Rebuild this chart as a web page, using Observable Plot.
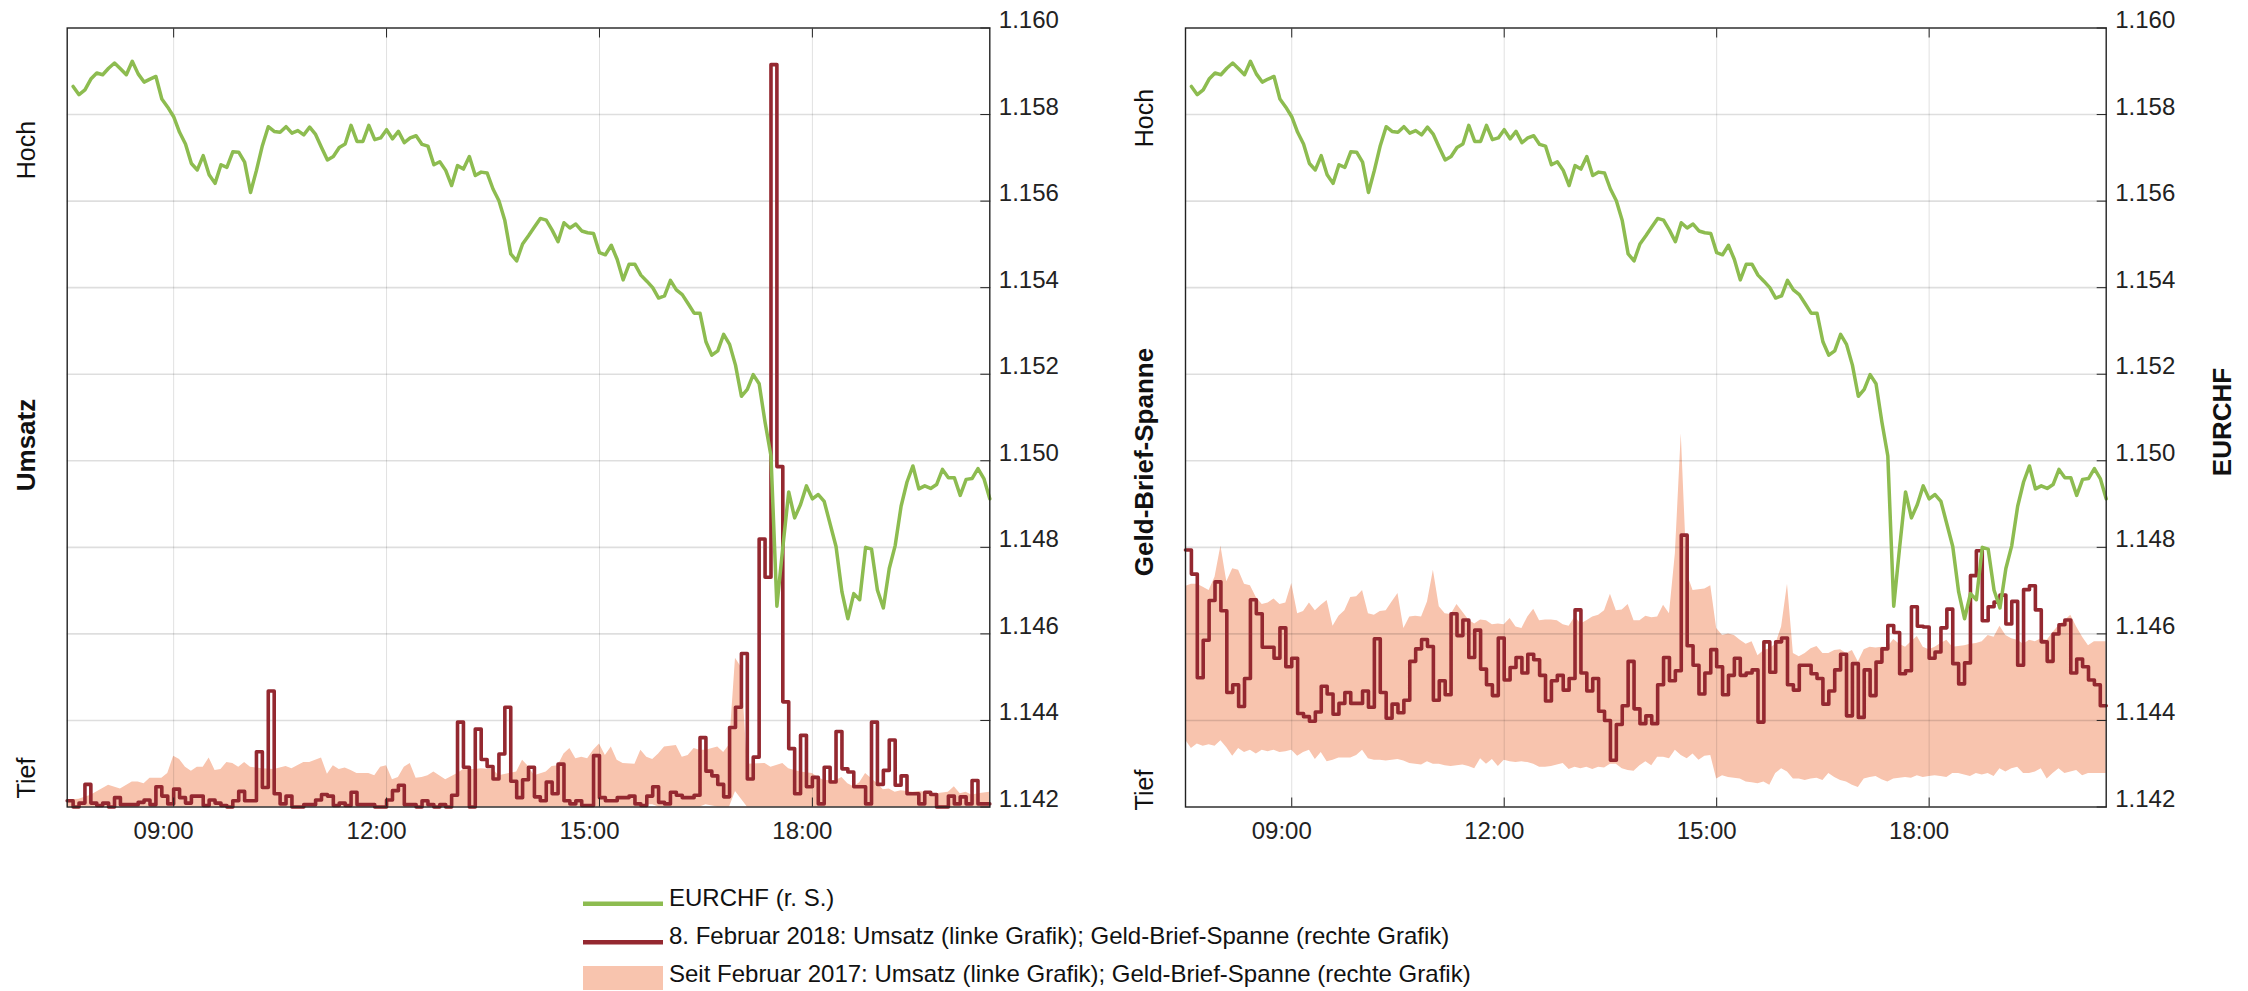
<!DOCTYPE html>
<html>
<head>
<meta charset="utf-8">
<script src="https://cdn.jsdelivr.net/npm/d3@7"></script>
<script src="https://cdn.jsdelivr.net/npm/@observablehq/plot@0.6"></script>
<style>
  html, body { margin: 0; padding: 0; background: #fff; }
  #wrap { position: relative; width: 2248px; height: 991px; font-family: "Liberation Sans", Arial, sans-serif; }
  .chart { position: absolute; top: 0; }
  #legend { position: absolute; left: 0; top: 0; pointer-events: none; }
</style>
</head>
<body>
<div id="wrap">
  <div id="left" class="chart" style="left:0px"></div>
  <div id="right" class="chart" style="left:1124px"></div>
  <svg id="legend" width="2248" height="991"></svg>
</div>
<script>
// ---------- DATA ----------
// EURCHF, 5-minute values from 07:35 to 20:30 (right scale)
const eurchf = [1.15865,1.15846,1.15857,1.15882,1.15896,1.15892,1.15907,1.15919,1.15906,1.15892,
1.15923,1.15894,1.15875,1.15882,1.15888,1.15836,1.15817,1.15795,1.15759,1.15732,
1.15687,1.15672,1.15705,1.15661,1.15641,1.15684,1.15678,1.15714,1.15713,1.15690,
1.15620,1.15671,1.15728,1.15772,1.15761,1.15759,1.15772,1.15757,1.15763,1.15753,
1.15771,1.15754,1.15724,1.15695,1.15703,1.15724,1.15732,1.15775,1.15738,1.15738,
1.15775,1.15742,1.15746,1.15765,1.15744,1.15761,1.15735,1.15746,1.15751,1.15731,
1.15727,1.15684,1.15691,1.15671,1.15636,1.15682,1.15674,1.15703,1.15659,1.15667,
1.15665,1.15628,1.15601,1.15555,1.15478,1.15462,1.15501,1.15520,1.15540,1.15560,
1.15556,1.15533,1.15506,1.15550,1.15538,1.15547,1.15531,1.15527,1.15525,1.15481,
1.15476,1.15498,1.15465,1.15418,1.15454,1.15454,1.15429,1.15415,1.15400,1.15376,
1.15381,1.15417,1.15395,1.15384,1.15363,1.15341,1.15341,1.15275,1.15244,1.15254,
1.15292,1.15269,1.15221,1.15149,1.15165,1.15199,1.15178,1.15089,1.15011,1.14664,
1.14800,1.14928,1.14868,1.14899,1.14942,1.14912,1.14922,1.14906,1.14854,1.14802,
1.14697,1.14635,1.14693,1.14679,1.14800,1.14796,1.14701,1.14660,1.14751,1.14804,
1.14895,1.14951,1.14988,1.14935,1.14942,1.14936,1.14945,1.14980,1.14961,1.14961,
1.14920,1.14957,1.14959,1.14982,1.14959,1.14912];

// Umsatz 8 Feb 2018, 5-minute bins from 07:30 (index: Tief = 0, Hoch = 100)
const umsatz = [0.8,0,0.5,2.9,0.5,0.2,0.5,0,1.2,0.3,
0.3,0.3,0.6,0.9,0.3,2.6,1.4,0.4,2.3,1.2,
0.5,1.4,1.4,0.2,0.9,0.5,0.2,0,0.8,2.0,
0.8,0.8,7.1,2.5,14.9,1.7,0.4,1.4,0,0,
0.3,0.3,0.9,1.6,1.4,0.2,0.5,0.2,1.9,0.3,
0.3,0.3,0,0,0.9,2.1,2.8,0.3,0.3,0,
0.8,0.3,0,0.3,0,1.5,10.9,5.1,0,10.0,
6.1,5.2,3.6,6.8,12.8,3.3,1.2,3.5,5.1,1.3,
0.8,3.2,1.7,5.5,0.8,0.4,0.8,0.2,0.2,6.6,
1.2,0.8,0.8,1.2,1.2,1.4,0.4,0.2,1.4,2.6,
0.6,0.4,1.9,1.5,1.2,1.2,1.5,8.9,4.6,4.0,
2.9,1.3,10.2,12.8,19.7,3.6,6.4,34.4,29.5,95.3,
43.7,13.5,7.5,1.7,9.2,2.6,3.8,0.4,5.1,3.2,
9.7,4.9,4.5,2.6,2.6,0.4,10.9,2.9,4.7,8.6,
2.8,4.0,1.7,1.7,0.4,1.9,1.6,0,0,1.4,
0.4,1.3,0.4,3.4,0.4,0.4];

// Umsatz range since Feb 2017: [5-minute slot since 07:30, low, high] (index)
const umsatzBand = [[0,0,0.9],[2,0,1.0],[4,0,1.5],[7,0,2.8],[9,0,2.3],[11,0,3.2],[12,0,3.2],[13,0,3.0],[14,0,3.7],[16,0,3.7],
[17,0,4.3],[18,0,6.5],[19,0,6.1],[20,0,5.1],[21,0,4.6],[22,0,5.1],[23,0,5.1],[24,0,6.3],[25,0,4.7],[26,0,4.8],
[27,0,5.7],[28,0,5.6],[29,0,5.1],[30,0,5.7],[31,0,5.1],[33,0,4.9],[35,0,4.8],[36,0,5.0],[37,0,5.2],[38,0,4.9],
[40,0,5.7],[41,0,5.7],[43,0,6.3],[44,0,4.2],[45,0,5.3],[46,0,4.8],[47,0,5.0],[48,0,4.7],[49,0,4.3],[51,0,4.3],
[52,0,4.0],[53,0,5.1],[54,0,5.3],[55,0,3.5],[56,0,3.8],[57,0,5.1],[58,0,5.6],[59,0,3.7],[60,0,3.8],[61,0,4.0],
[62,0,4.5],[64,0,3.5],[66,0,4.3],[67,0,4.8],[69,0,4.8],[70,0,4.9],[72,0,4.8],[73,0,4.0],[76,0,4.5],[77,0,6.0],
[78,0,5.2],[79,0,4.0],[81,0,4.5],[82,0,5.2],[83,0,5.3],[84,0,6.8],[85,0,7.5],[86,0,6.2],[87,0,6.4],[88,0,6.2],
[89,0,7.3],[90,0,8.1],[91,0,6.6],[92,0,7.7],[93,0,6.0],[94,0,5.6],[96,0,5.5],[97,0,7.3],[98,0.3,6.4],[99,0.3,6.1],
[100,0,6.8],[101,0,7.7],[103,0,7.9],[104,0,6.4],[105,0,6.6],[106,0,7.5],[107,0,7.3],[108,0.3,7.3],[110,0,7.7],[111,0,7.0],
[112,0,8.0],[113,2.0,19.1],[114,1.0,17.9],[115,0,5.5],[118,0,5.6],[119,0,5.1],[121,0,5.6],[122,0,4.9],[123,0,4.7],[124,0,4.5],
[126,0,4.3],[127,0,3.8],[128,0,3.4],[130,0,3.4],[131,0,3.8],[132,0,3.0],[133,0,2.6],[134,0,3.1],[135,0,4.3],[137,0,3.0],
[138,0,2.2],[139,0,2.3],[140,0,1.9],[141,0,2.1],[143,0,1.9],[144,0,2.0],[146,0,1.8],[147,0,1.7],[149,0,1.9],[150,0,2.6],
[151,0,1.7],[152,0,1.9],[153,0,1.5],[154,0,1.7],[156,0,1.9]];

// Geld-Brief-Spanne 8 Feb 2018, 5-minute bins from 07:30 (index)
const spanne = [33.0,29.9,16.6,21.4,26.5,28.9,25.2,14.7,15.7,12.9,
16.5,26.6,24.8,20.5,20.5,19.1,23.0,18.0,19.1,12.0,
11.6,11.0,12.2,15.5,14.5,11.9,13.3,14.7,13.3,13.3,
14.9,12.8,21.6,14.7,11.4,13.2,12.1,13.7,18.7,20.3,
21.5,20.6,13.7,16.2,14.4,24.8,22.0,24.0,19.2,22.7,
17.7,15.7,14.3,21.7,16.3,17.9,19.2,17.2,19.6,18.9,
16.9,13.6,16.2,16.9,15.0,16.5,25.3,17.2,14.9,16.5,
12.3,11.1,6.0,10.6,13.0,18.7,12.6,10.7,11.7,10.7,
15.7,19.2,16.2,17.5,34.9,20.7,18.2,14.5,17.2,20.2,
18.0,14.4,16.9,19.1,16.9,17.2,17.6,10.9,21.2,17.3,
21.2,21.7,15.7,15.0,18.2,18.2,17.1,16.5,13.2,14.9,
17.6,19.6,11.7,18.4,11.5,17.6,14.3,18.6,20.3,23.3,
22.4,17.1,17.5,25.7,23.2,23.1,19.1,19.9,23.0,25.4,
18.4,15.8,18.5,29.7,32.9,23.9,25.7,26.3,27.2,23.5,
26.4,18.2,27.9,28.4,25.3,21.2,18.7,22.2,23.4,24.0,
17.2,19.0,18.0,16.3,15.7,13.0];

// Geld-Brief-Spanne range since Feb 2017, every 5 minutes 07:30..20:30 (index)
const spanneHigh = [28.3,28.6,28.6,28.2,27.8,29.5,33.5,28.9,30.6,30.4,
28.6,28.4,26.9,26.0,26.2,26.7,26.0,26.2,28.7,24.8,
25.1,26.2,25.2,25.9,26.5,23.2,24.5,25.2,26.9,27.0,
27.8,24.8,24.6,25.1,25.2,26.3,27.4,22.9,24.4,24.5,
24.4,26.3,30.4,25.7,24.8,24.7,26.0,25.0,24.0,23.5,
24.0,23.9,23.4,23.5,23.4,24.2,23.1,22.9,24.4,25.4,
23.9,24.0,24.0,23.9,23.4,23.2,24.4,23.5,23.9,24.4,
24.6,25.2,27.3,25.2,25.3,26.0,23.9,23.9,24.5,24.3,
24.4,25.9,24.8,32.5,47.9,29.9,27.8,27.9,28.0,28.4,
22.9,22.0,22.2,22.0,21.4,20.9,21.2,19.4,20.1,20.3,
20.9,23.1,28.6,19.7,19.3,19.7,20.3,20.6,19.7,19.7,
20.1,20.2,19.7,20.1,18.6,20.2,20.5,20.4,20.5,20.5,
21.5,20.9,20.5,21.2,21.9,20.5,20.2,20.5,21.0,21.4,
20.5,20.6,20.7,20.9,21.0,21.2,22.0,21.8,23.2,22.0,
21.6,21.4,20.9,21.4,21.2,21.6,21.4,22.4,23.3,23.9,
24.6,23.1,21.8,20.7,21.2,21.2,21.2];
const spanneLow = [8.6,7.5,8.1,7.8,8.0,7.8,8.5,7.6,6.5,7.5,
7.0,7.3,6.8,7.3,7.1,7.3,7.0,7.1,7.3,6.5,
7.0,7.3,6.1,7.0,5.8,6.0,6.3,6.3,6.3,6.6,
7.3,6.2,6.0,6.0,5.9,6.0,6.1,5.9,5.6,5.5,
5.4,5.8,5.5,5.5,5.3,5.2,5.3,5.4,5.2,4.9,
6.2,5.5,6.1,5.2,6.0,5.8,5.7,5.8,5.7,5.5,
5.1,5.1,5.2,5.4,5.6,4.8,5.1,4.9,5.1,4.8,
5.1,5.0,5.5,5.5,4.9,4.7,4.6,
5.3,5.8,5.3,6.4,6.4,6.2,7.3,6.6,6.2,6.8,
6.0,6.5,6.6,3.6,4.0,3.8,3.7,3.6,3.2,3.1,
3.0,3.2,2.8,4.3,4.9,4.5,3.6,3.6,3.4,3.6,
3.7,3.4,4.3,3.8,3.4,3.2,2.8,2.5,3.6,3.8,
3.9,3.5,3.2,3.6,3.7,3.8,3.7,4.0,3.8,3.9,
4.0,3.9,3.8,4.3,4.3,4.1,3.9,4.3,4.1,4.3,
3.9,4.9,4.5,4.9,5.1,4.3,4.3,4.5,4.9,3.6,
4.3,4.9,4.3,4.5,4.7,4.0,4.3,4.3,4.3,4.3];

const xTickLabels = ["09:00", "12:00", "15:00", "18:00"];
const yTicks = [1.142, 1.144, 1.146, 1.148, 1.150, 1.152, 1.154, 1.156, 1.158, 1.160];
const legendLabels = [
  "EURCHF (r. S.)",
  "8. Februar 2018: Umsatz (linke Grafik); Geld-Brief-Spanne (rechte Grafik)",
  "Seit Februar 2017: Umsatz (linke Grafik); Geld-Brief-Spanne (rechte Grafik)"
];

// ---------- STYLE ----------
const GREEN = "#8dbc50";
const RED = "#942830";
const SALMON = "#f8c4ae";
const INK = "#222";
const FONT = "'Liberation Sans', Arial, Helvetica, sans-serif";

// ---------- HELPERS ----------
const T = (h, m) => new Date(Date.UTC(2018, 1, 8, h, m));
const idxToY = v => 1.142 + v * 0.018 / 100; // Tief..Hoch index onto the EURCHF axis
const xTickDates = xTickLabels.map(s => { const [h, m] = s.split(":").map(Number); return T(h, m); });

const eurchfRows = eurchf.map((v, k) => ({t: T(7, 35 + 5 * k), v}));
const stepRows = arr => [...arr.map((v, j) => ({t: T(7, 30 + 5 * j), v})), {t: T(20, 30), v: arr[arr.length - 1]}];
const umsatzRows = stepRows(umsatz);
const spanneRows = stepRows(spanne);
const umsatzBandRows = umsatzBand.map(([s, lo, hi]) => ({t: T(7, 30 + 5 * s), lo, hi}));
const spanneBandRows = spanneHigh.map((hi, m) => ({t: T(7, 30 + 5 * m), lo: spanneLow[m], hi}));

function makeChart({band, red, marginLeft, marginRight}) {
  return Plot.plot({
    width: 1124, height: 860,
    marginLeft, marginRight, marginTop: 27.5, marginBottom: 53.5,
    style: {fontFamily: FONT, fontSize: "24px", color: INK, background: "transparent", overflow: "visible"},
    x: {type: "utc", domain: [T(7, 30), T(20, 30)], axis: null, label: null},
    y: {domain: [1.142, 1.160], axis: null, label: null},
    marks: [
      Plot.areaY(band, {x: "t", y1: d => idxToY(d.lo), y2: d => idxToY(d.hi), fill: SALMON}),
      Plot.gridX(xTickDates, {stroke: "#000", strokeOpacity: 0.12, strokeWidth: 1}),
      Plot.gridY(yTicks.slice(1, -1), {stroke: "#000", strokeOpacity: 0.13, strokeWidth: 1.6}),
      Plot.line(red, {x: "t", y: d => idxToY(d.v), curve: "step-after", stroke: RED, strokeWidth: 3.6}),
      Plot.line(eurchfRows, {x: "t", y: "v", stroke: GREEN, strokeWidth: 3.5}),
      Plot.frame({stroke: INK, strokeWidth: 1.4}),
      Plot.axisY(yTicks, {anchor: "right", tickSize: -10, tickFormat: d3.format(".3f"), lineAnchor: "bottom", fontSize: 24, color: INK, label: null}),
      Plot.axisX(xTickDates, {anchor: "bottom", tickSize: -9, fill: "none", color: INK, label: null}),
      Plot.axisX(xTickDates, {anchor: "top", tickSize: -9, fill: "none", color: INK, label: null}),
      Plot.axisX(xTickDates, {anchor: "bottom", tickSize: 0, tickPadding: 15, dx: -10, tickFormat: d3.utcFormat("%H:%M"), fontSize: 24, color: INK, label: null})
    ]
  });
}

function addLabel(svg, text, x, y, bold) {
  d3.select(svg).append("text")
    .attr("transform", `translate(${x},${y}) rotate(-90)`)
    .attr("text-anchor", "middle")
    .attr("dy", "0.36em")
    .attr("font-family", FONT)
    .attr("font-size", bold ? 26 : 25)
    .attr("font-weight", bold ? "bold" : "normal")
    .attr("fill", "#111")
    .text(text);
}

const left = makeChart({band: umsatzBandRows, red: umsatzRows, marginLeft: 66.7, marginRight: 134.7});
addLabel(left, "Hoch", 26, 150, false);
addLabel(left, "Umsatz", 26, 445, true);
addLabel(left, "Tief", 26, 778, false);
document.getElementById("left").appendChild(left);

const right = makeChart({band: spanneBandRows, red: spanneRows, marginLeft: 61, marginRight: 142.3});
addLabel(right, "Hoch", 20, 118, false);
addLabel(right, "Geld-Brief-Spanne", 20, 462, true);
addLabel(right, "Tief", 20, 790, false);
addLabel(right, "EURCHF", 1098, 422, true);
document.getElementById("right").appendChild(right);

// ---------- LEGEND ----------
const lg = d3.select("#legend");
const rowBase = [906, 944, 982];
lg.append("rect").attr("x", 583).attr("y", 901.5).attr("width", 80).attr("height", 4.5).attr("fill", GREEN);
lg.append("rect").attr("x", 583).attr("y", 940).attr("width", 80).attr("height", 4.5).attr("fill", RED);
lg.append("rect").attr("x", 583).attr("y", 966).attr("width", 80).attr("height", 24).attr("fill", SALMON);
legendLabels.forEach((s, i) => {
  lg.append("text").attr("x", 669).attr("y", rowBase[i])
    .attr("font-family", FONT).attr("font-size", 24).attr("fill", "#111").text(s);
});
</script>
</body>
</html>
